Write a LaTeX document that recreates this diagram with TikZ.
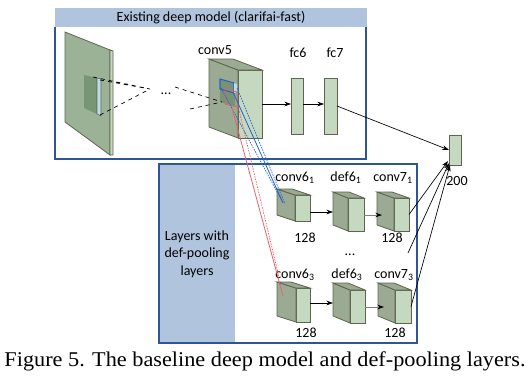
\documentclass[tikz,border=0pt]{standalone}
\usepackage{fontspec}
\setmainfont{Carlito}
\newfontfamily\capfont[FakeStretch=1.06]{Liberation Serif}
\usetikzlibrary{arrows.meta,calc}
\definecolor{bandblue}{RGB}{176,196,222}
\definecolor{boxline}{RGB}{47,85,151}
\definecolor{sidegreen}{RGB}{155,170,147}
\definecolor{frontgreen}{RGB}{197,217,193}
\definecolor{edgegray}{RGB}{95,100,80}
\definecolor{planegreen}{RGB}{155,178,150}
\definecolor{patchgreen}{RGB}{120,150,115}
\definecolor{stripblue}{RGB}{185,220,235}
\definecolor{rfblue}{RGB}{40,100,200}
\definecolor{rfred}{RGB}{225,100,110}

% feature map block: name, centre x, centre y, width, height, depth x, depth y
\newcommand{\fmap}[7]{%
  \node[front, minimum width=#4*0.75pt, minimum height=#5*0.75pt] (#1) at (#2,#3) {};
  \coordinate (#1-back) at ($(#1.north west)+(-#6,-#7)$);
  \filldraw[side] (#1.north west) -- (#1-back) -- ++(0,#5) -- (#1.south west) -- cycle;
  \filldraw[side] (#1.north west) -- (#1-back) -- ++(#4,0) -- (#1.north east) -- cycle;
}

\begin{document}
\begin{tikzpicture}[
    x=0.75pt, y=-0.75pt,
    front/.style={draw=edgegray, fill=frontgreen, line width=0.6pt, inner sep=0pt, outer sep=0pt},
    side/.style={draw=edgegray, fill=sidegreen, line width=0.6pt},
    lbl/.style={font=\fontsize{10.5}{12.6}\selectfont, inner sep=0pt},
    arr/.style={-{Stealth[length=5pt, width=3.5pt]}, line width=0.5pt},
    garr/.style={-{Stealth[length=5pt, width=3.5pt, color=black]}, draw=gray, line width=0.6pt},
    rf/.style={line width=0.5pt, dash pattern=on 1.2pt off 0.8pt}
]
\useasboundingbox (0,0) rectangle (532,386);
\fill[white] (0,0) rectangle (532,386);

% Existing model frame
\fill[bandblue] (55,8) rectangle (367,27);
\node[lbl] (head) at (211,18) {Existing deep model (clarifai-fast)};
\draw[boxline, line width=0.8pt] (55,27) -- (55,159) -- (366,159) -- (366,27);

% Def-pooling frame
\fill[bandblue] (159,164) rectangle (235,343);
\draw[boxline, line width=0.8pt] (159,164) rectangle (417,343);
\node[lbl, align=center, font=\fontsize{10.5}{13.1}\selectfont] (side) at (197,254) {Layers with\\def-pooling\\layers};

% Input image plane
\filldraw[fill=planegreen, draw=edgegray, line width=0.6pt] (65,32) -- (110,50) -- (110,155) -- (65,122) -- cycle;
\filldraw[fill=frontgreen, draw=edgegray, line width=0.6pt] (110,50) -- (113,51) -- (113,155) -- (110,155) -- cycle;
\fill[patchgreen] (84,75) -- (97,78) -- (97,114) -- (84,108) -- cycle;
\filldraw[fill=stripblue, draw=edgegray, line width=0.4pt] (97,78) -- (101,79) -- (101,116) -- (97,114) -- cycle;
\coordinate (apex) at (150,89);
\draw[dashed, line width=0.5pt] (93,77) -- (apex) (100,80) -- (apex) (100,115) -- (apex);
\node[lbl] (dots1) at (166,94) {...};

% conv5 / fc6 / fc7
\fmap{conv5}{250}{104}{24}{68}{29}{11}
\fill[patchgreen!80!gray] (220,79) -- (235,83) -- (235,106) -- (220,102) -- cycle;
\draw[rfblue, line width=0.8pt] (220,79) -- (234,83) -- (234,93) -- (220,89) -- cycle;
\fill[stripblue] (234,83) -- (237,84) -- (237,92) -- (234,93) -- cycle;
\draw[rfred, line width=0.7pt] (225,89) -- (237,92) -- (237,107) -- (225,104) -- cycle;
\coordinate (rfpt) at (222,102);
\draw[dashed, line width=0.5pt] (175,87) -- (rfpt) (190,109) -- (rfpt);
\node[lbl] (l5) at (215,50) {conv5};

\node[front, minimum width=12*0.75pt, minimum height=56*0.75pt] (fc6) at (297,106) {};
\node[front, minimum width=13*0.75pt, minimum height=56*0.75pt] (fc7) at (330.5,106) {};
\node[lbl] (l6) at (298,53) {fc6};
\node[lbl] (l7) at (335,53) {fc7};
\draw[arr] (conv5.east) -- (conv5.east -| fc6.west);
\draw[arr] (fc6.east |- conv5.east) -- (conv5.east -| fc7.west);

% Output
\node[front, minimum width=12*0.75pt, minimum height=30*0.75pt] (out) at (455,150) {};
\node[lbl, anchor=base] (l200) at (457,185) {200};
\draw[arr] (fc7.east) -- (out.west);

% Def-pooling branches
\fmap{c61}{302.5}{208}{15}{26}{18}{6}
\fmap{d61}{356}{214.5}{16}{33}{15}{6}
\fmap{c71}{401.5}{214.5}{15}{33}{17}{6}
\fmap{c63}{303}{305}{14}{34}{19}{6}
\fmap{d63}{357.5}{306.5}{15}{33}{17}{7}
\fmap{c73}{403}{306.5}{16}{33}{17}{7}

\node[lbl, anchor=base] (lc61) at (295,181) {conv6\textsubscript{1}};
\node[lbl, anchor=base] (ld61) at (346,181) {def6\textsubscript{1}};
\node[lbl, anchor=base] (lc71) at (393,181) {conv7\textsubscript{1}};
\node[lbl, anchor=base] (lc63) at (295,278) {conv6\textsubscript{3}};
\node[lbl, anchor=base] (ld63) at (347,278) {def6\textsubscript{3}};
\node[lbl, anchor=base] (lc73) at (394,278) {conv7\textsubscript{3}};
\node[lbl, anchor=base] (n61) at (305,242) {128};
\node[lbl, anchor=base] (n71) at (392,242) {128};
\node[lbl, anchor=base] (n63) at (306,337) {128};
\node[lbl, anchor=base] (n73) at (395,337) {128};
\node[lbl] (dots2) at (350,255) {...};

\draw[arr] (c61.east |- 0,212) -- (d61-back |- 0,212);
\draw[garr] (d61.east |- 0,215) -- ($(c71-back |- 0,215)+(5,0)$);
\draw[arr] (c63.east |- 0,303) -- (d63-back |- 0,303);
\draw[garr] (d63.east |- 0,307) -- ($(c73-back |- 0,307)+(6,0)$);

% Links from conv5 receptive fields
\draw[rfblue, rf] (221,88) -- (282,201);
\draw[rfblue, line width=0.6pt] (233,92) -- (283,203);
\draw[rfblue, rf] (237,88) -- (285,204);
\draw[rfred, line width=0.6pt] (232,108) -- (283,296);
\draw[rfred, rf] (238,106) -- (279,277);

% Into output
\coordinate (more) at (408,253);
\draw[arr] (c71.east) -- ($(out.south west)+(-1,-4)$);
\draw[arr] (more) -- ($(out.south west)+(0,-2)$);
\draw[arr] (c73.east) -- ($(out.south west)+(1,0)$);

% Caption
\node[font=\capfont\fontsize{15.75}{18}\selectfont, inner sep=0pt, anchor=base] (cap) at (265,366) {Figure 5. The baseline deep model and def-pooling layers.};

\end{tikzpicture}
\end{document}
